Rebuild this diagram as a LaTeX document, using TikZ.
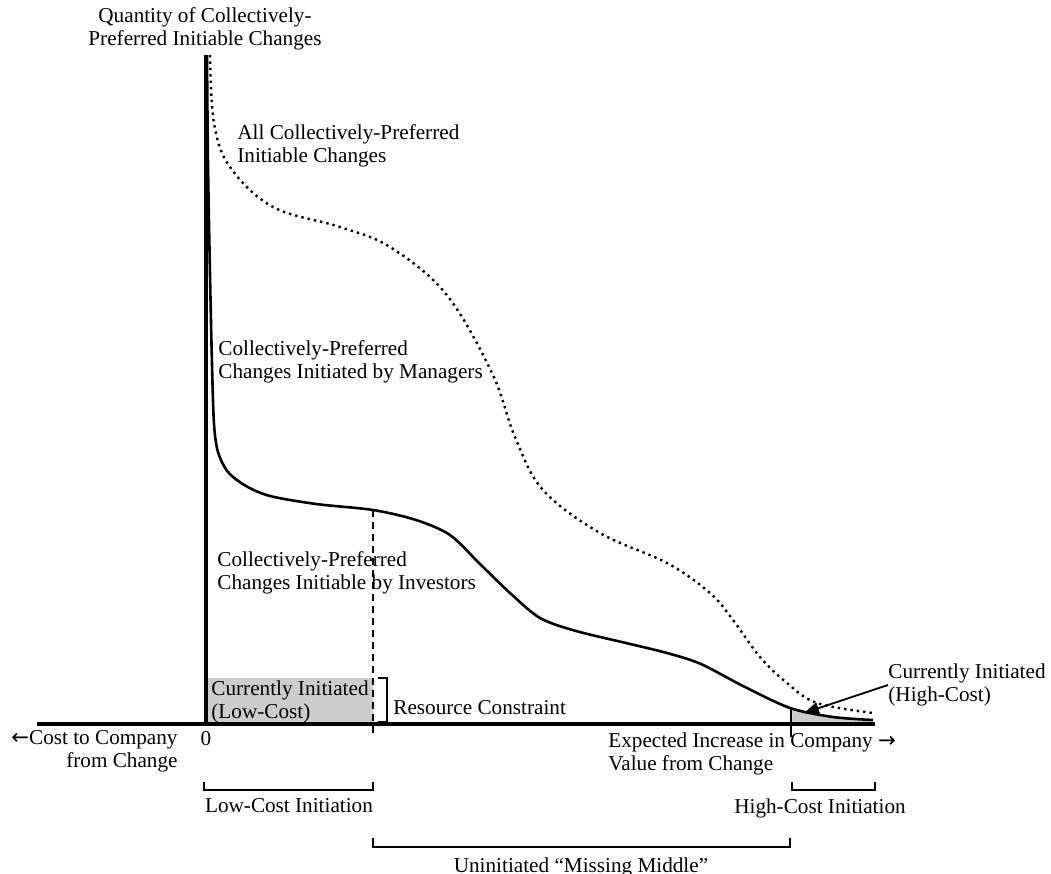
\documentclass[tikz,border=0pt]{standalone}
\usepackage{fontspec}
\setmainfont{Liberation Serif}
\newfontfamily\arrowfont{DejaVu Sans}
\usetikzlibrary{arrows.meta,positioning}

\begin{document}
\begin{tikzpicture}[x=0.5pt,y=0.5pt,
		font=\fontsize{10.6}{11.7}\selectfont,
		lbl/.style={inner sep=0pt, align=left, anchor=west},
		brk/.style={line width=1pt},
		cifill/.style={fill=black!20}]
	\useasboundingbox (-206,-150) rectangle (845,724);
	\coordinate (O) at (0,0);
	\coordinate (ytop) at (0,669);
	\coordinate (xleft) at (-169,0);
	\coordinate (xright) at (669,0);
	\coordinate (rc) at (167,214);
	\coordinate (hc) at (585,16);
	\coordinate (tip) at (598,11);
	% currently initiated areas
	\fill[cifill] (O) rectangle (167,46);
	\fill[cifill] (hc) .. controls (605,10) and (640,5) .. (667,4) -- (667,0) -- (585,0) -- cycle;
	% curves
	\draw[line width=1.2pt, dotted] plot[smooth, tension=0.6] coordinates {(4,669) (8,601) (24,557) (67,517) (134,497) (184,477) (240,430) (286,351) (309,287) (337,234) (394,191) (461,161) (504,131) (527,104) (554,67) (581,41) (611,21) (667,11)};
	\draw[line width=1.3pt] plot[smooth, tension=0.5] coordinates {(1,669) (2,560) (4,450) (6,360) (8,300) (12,272) (22,252) (40,238) (64,228) (110,220) (167,214) (210,204) (244,189) (274,160) (304,131) (334,106) (370,93) (420,81) (461,71) (495,60) (537,38) (584,16) (627,7) (667,4)};
	% axes
	\draw[line width=2.25pt] (xleft) -- (xright);
	\draw[line width=2.25pt] (O) -- (ytop);
	\draw[line width=0.9pt, dash pattern=on 3.5pt off 2.5pt] (rc) -- (167,-13);
	\draw[line width=0.8pt] (hc) -- (585,-13);
	% brackets
	\draw[brk] (172,46) -- (181,46) -- (181,2) -- (172,2);
	\draw[brk] (-2,-58) |- (167,-66) -- (167,-58);
	\draw[brk] (586,-58) |- (669,-66) -- (669,-58);
	\draw[brk] (167,-114) |- (584,-123) -- (584,-114);
	\coordinate (lowbrk) at (83,-66);
	\coordinate (highbrk) at (614,-66);
	\coordinate (midbrk) at (375,-123);
	% labels
	\node[inner sep=0pt, align=center] (ytitle) at (-1,695) {Quantity of Collectively-\\Preferred Initiable Changes};
	\node[lbl] (all) at (31,578) {All Collectively-Preferred\\Initiable Changes};
	\node[lbl] (mgr) at (12,362) {Collectively-Preferred\\Changes Initiated by Managers};
	\node[lbl] (inv) at (11,151) {Collectively-Preferred\\Changes Initiable by Investors};
	\node[lbl] (locost) at (5,22) {Currently Initiated\\(Low-Cost)};
	\node[lbl] (res) at (187,16) {Resource Constraint};
	\node[lbl] (hicost) at (682,39) {Currently Initiated\\(High-Cost)};
	\node[inner sep=0pt] (zero) at (0,-15) {0};
	\node[inner sep=0pt, align=right, anchor=east] (costlbl) at (-28,-27) {{\arrowfont ←}Cost to Company\\from Change};
	\node[lbl] (valuelbl) at (402,-30) {Expected Increase in Company {\arrowfont →}\\Value from Change};
	\node[inner sep=0pt, below=4pt of lowbrk] (lowlbl) {Low-Cost Initiation};
	\node[inner sep=0pt, below=4pt of highbrk] (highlbl) {High-Cost Initiation};
	\node[inner sep=0pt, below=5pt of midbrk] (midlbl) {Uninitiated “Missing Middle”};
	\draw[line width=0.9pt, -{Triangle[length=7.5pt,width=6pt]}] (hicost.west) -- (tip);
\end{tikzpicture}
\end{document}
